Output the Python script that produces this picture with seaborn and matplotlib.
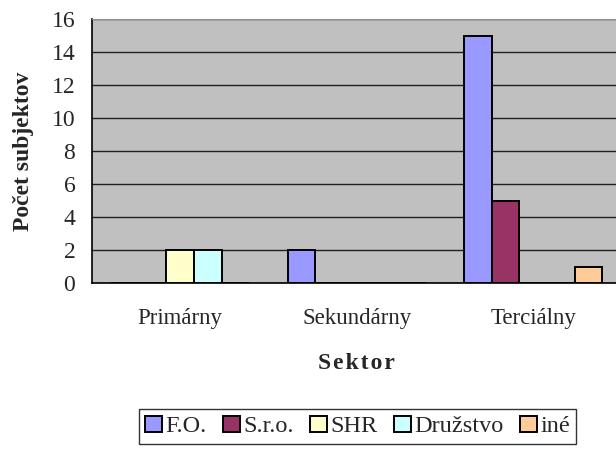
import pandas as pd
import seaborn as sns
from matplotlib import pyplot as plt

# data
sektory = ["Primárny", "Sekundárny", "Terciálny"]
typy = ["F.O.", "S.r.o.", "SHR", "Družstvo", "iné"]
fo = [0, 2, 15]
sro = [0, 0, 5]
shr = [2, 0, 0]
druzstvo = [2, 0, 0]
ine = [0, 0, 1]
farby = ["#9999FF", "#993366", "#FFFFCC", "#CCFFFF", "#FFCC99"]

rows = []
for typ, hodnoty in zip(typy, [fo, sro, shr, druzstvo, ine]):
    for sektor, h in zip(sektory, hodnoty):
        rows.append({"sektor": sektor, "typ": typ, "pocet": h})
df = pd.DataFrame(rows)

sns.set_style("white")
plt.rcParams["font.family"] = ["Liberation Serif", "DejaVu Serif"]

fig = plt.figure(figsize=(6.16, 4.55), dpi=100)
ax = fig.add_axes([92 / 616, 1 - 283 / 455, 529.5 / 616, 264 / 455])
ax.set_facecolor("#C0C0C0")

sns.barplot(data=df, x="sektor", y="pocet", hue="typ", order=sektory, hue_order=typy,
            palette=farby, width=0.78, gap=0, edgecolor="black", linewidth=1.4,
            saturation=1, ax=ax, zorder=3)

ax.set_ylim(0, 16)
ax.set_yticks(range(0, 17, 2))
ax.set_xlim(-0.5, 2.5)
ax.set_xticks([-0.5, 0.5, 1.5, 2.5])
ax.set_xticklabels([])
ax.set_xticks([0, 1, 2], minor=True)
ax.set_xticklabels(sektory, minor=True, fontsize=16.5)
ax.tick_params(axis="x", which="major", length=6, width=1, color="black", direction="out")
ax.tick_params(axis="x", which="minor", length=0, pad=18)
ax.tick_params(axis="y", length=6, width=1, color="black", direction="out", labelsize=17, pad=6)
ax.yaxis.grid(True, color="#202020", linewidth=1, zorder=1)
ax.set_axisbelow(True)

for s in ["left", "bottom"]:
    ax.spines[s].set_color("black")
    ax.spines[s].set_linewidth(1.2)
ax.spines["top"].set_color("#909090")
ax.spines["right"].set_visible(False)

ax.set_ylabel("Počet subjektov", fontsize=17, fontweight="bold", labelpad=13)
ax.set_xlabel("S e k t o r".replace(" ", "\u200a"), fontsize=17, fontweight="bold", labelpad=17)

handles, labels = ax.get_legend_handles_labels()
ax.get_legend().remove()
leg = fig.legend(handles, labels, loc="center", bbox_to_anchor=(357.5 / 616, 1 - 426.5 / 455),
                 ncol=5, fontsize=17.5, frameon=True, fancybox=False, handlelength=0.68,
                 handleheight=0.68, handletextpad=0.15, columnspacing=0.68, borderpad=0.25)
leg.get_frame().set_edgecolor("black")
leg.get_frame().set_linewidth(1)

fig.savefig("out.png", dpi=100)
